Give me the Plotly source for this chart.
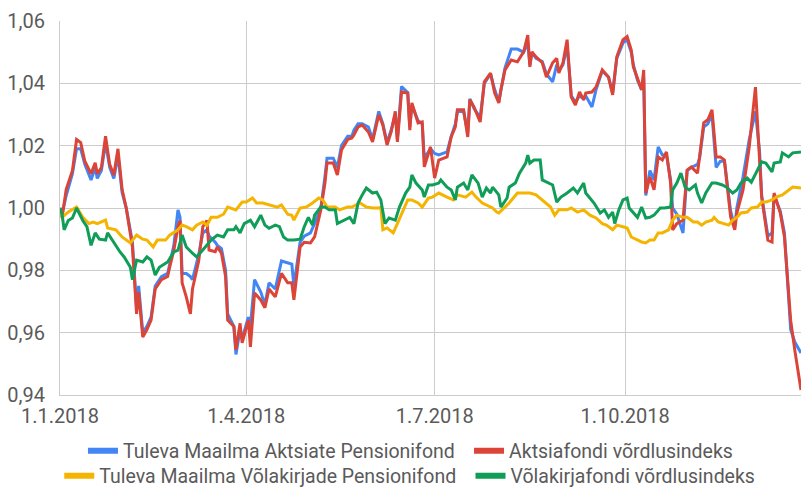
import pandas as pd
import plotly.graph_objects as go

# ---- data (day offsets from 1.1.2018, index values) ----
eq_days = [0, 1, 3, 6, 8, 10, 12, 15, 17, 18, 20, 22, 24, 26, 28, 30, 32, 35, 37, 38,
           40, 42, 44, 46, 49, 52, 53, 55, 57, 58, 59, 61, 63, 64, 67, 69, 71, 72, 75, 76,
           78, 80, 81, 84, 85, 87, 88, 91, 92, 94, 97, 99, 101, 104, 107, 110, 112, 113, 116, 118,
           121, 123, 126, 128, 129, 132, 134, 136, 139, 141, 142, 144, 146, 149, 151, 154, 156, 158, 160, 162,
           163, 165, 168, 169, 170, 173, 175, 176, 179, 181, 183, 187, 189, 191, 192, 195, 197, 198, 200, 203,
           205, 208, 210, 212, 213, 215, 218, 221, 224, 226, 227, 228, 230, 233, 235, 238, 240, 241, 243, 245,
           247, 249, 251, 253, 254, 257, 259, 262, 265, 267, 269, 272, 274, 276, 277, 279, 281, 282, 283, 285,
           287, 289, 291, 293, 295, 296, 298, 301, 303, 305, 308, 309, 311, 313, 315, 317, 319, 321, 324, 326,
           327, 330, 333, 336, 338, 339, 342, 344, 345, 348, 350, 353, 355, 358]

eq_fund = [1.000, 0.998, 1.004, 1.011, 1.019, 1.019, 1.014, 1.009, 1.013, 1.0095,
           1.012, 1.021, 1.013, 1.0095, 1.017, 1.005, 1.000, 0.989, 0.968, 0.975,
           0.960, 0.962, 0.965, 0.975, 0.978, 0.979, 0.982, 0.988, 0.9994, 0.997,
           0.979, 0.979, 0.978, 0.977, 0.985, 0.992, 0.993, 0.991, 0.989, 0.988,
           0.987, 0.980, 0.966, 0.962, 0.953, 0.961, 0.958, 0.965, 0.962, 0.977,
           0.973, 0.969, 0.976, 0.974, 0.983, 0.9825, 0.982, 0.975, 0.989, 0.991,
           0.992, 0.995, 1.000, 1.010, 1.016, 1.016, 1.013, 1.020, 1.023, 1.023,
           1.025, 1.027, 1.027, 1.026, 1.022, 1.031, 1.027, 1.021, 1.025, 1.030,
           1.022, 1.039, 1.037, 1.026, 1.033, 1.028, 1.027, 1.016, 1.019, 1.0175,
           1.017, 1.018, 1.023, 1.027, 1.031, 1.031, 1.024, 1.035, 1.032, 1.029,
           1.040, 1.043, 1.038, 1.034, 1.038, 1.045, 1.051, 1.051, 1.050, 1.053,
           1.046, 1.050, 1.048, 1.047, 1.043, 1.0405, 1.046, 1.044, 1.046, 1.052,
           1.036, 1.034, 1.036, 1.035, 1.036, 1.0324, 1.038, 1.044, 1.042, 1.037,
           1.048, 1.053, 1.054, 1.050, 1.046, 1.041, 1.038, 1.042, 1.004, 1.012,
           1.009, 1.0196, 1.017, 1.017, 1.009, 1.000, 0.998, 0.992, 1.012, 1.013,
           1.014, 1.016, 1.026, 1.027, 1.030, 1.013, 1.015, 1.015, 0.999, 0.994,
           1.000, 1.010, 1.022, 1.031, 1.018, 1.004, 0.991, 0.992, 1.004, 0.999,
           0.992, 0.961, 0.957, 0.9535]

eq_index = [1.000, 0.997, 1.006, 1.012, 1.022, 1.021, 1.015, 1.011, 1.0145, 1.011,
            1.013, 1.023, 1.014, 1.0106, 1.019, 1.006, 1.000, 0.9875, 0.966, 0.973,
            0.9586, 0.961, 0.964, 0.974, 0.977, 0.978, 0.981, 0.9865, 0.994, 0.996,
            0.976, 0.9715, 0.966, 0.974, 0.983, 0.994, 0.996, 0.9865, 0.986, 0.9875,
            0.9855, 0.978, 0.964, 0.962, 0.9545, 0.963, 0.9567, 0.964, 0.9554, 0.9727,
            0.9705, 0.968, 0.974, 0.9715, 0.979, 0.976, 0.976, 0.9705, 0.9875, 0.989,
            0.9888, 0.9907, 0.9994, 1.008, 1.0144, 1.0144, 1.0106, 1.0186, 1.022, 1.0225,
            1.0234, 1.026, 1.0266, 1.0244, 1.0212, 1.0299, 1.0266, 1.0202, 1.0244, 1.031,
            1.0212, 1.0372, 1.0369, 1.025, 1.0337, 1.0273, 1.0276, 1.0132, 1.0196, 1.0096,
            1.0154, 1.0164, 1.0228, 1.026, 1.0315, 1.0315, 1.0228, 1.0347, 1.0324, 1.0276,
            1.0405, 1.0433, 1.0369, 1.0337, 1.0379, 1.0443, 1.0475, 1.0469, 1.0501, 1.0555,
            1.0453, 1.0501, 1.0485, 1.0466, 1.042, 1.0466, 1.048, 1.0433, 1.0466, 1.054,
            1.0356, 1.033, 1.0372, 1.0347, 1.0369, 1.0372, 1.0388, 1.0443, 1.042, 1.0363,
            1.0485, 1.054, 1.055, 1.0507, 1.0453, 1.0417, 1.0379, 1.0443, 1.0048, 1.010,
            1.0058, 1.0164, 1.0154, 1.018, 1.008, 0.993, 0.995, 0.9961, 1.0122, 1.0132,
            1.0112, 1.0164, 1.0273, 1.0283, 1.0315, 1.0164, 1.0164, 1.0154, 0.9971, 0.993,
            0.9984, 1.0058, 1.0196, 1.0388, 1.0177, 1.0035, 0.9897, 0.9891, 1.0048, 0.9984,
            0.9907, 0.964, 0.9544, 0.9416]

bond_fund_days = [0, 1, 4, 8, 11, 14, 16, 18, 22, 23, 27, 30, 34, 37, 40, 42, 45, 47, 51, 53,
                  57, 59, 61, 64, 66, 69, 71, 73, 76, 79, 81, 85, 88, 90, 93, 95, 98, 101, 105, 107,
                  110, 112, 113, 116, 119, 122, 125, 127, 129, 133, 135, 139, 141, 145, 148, 151, 154, 155, 156, 158,
                  161, 163, 166, 168, 170, 173, 175, 178, 180, 183, 187, 190, 192, 196, 199, 201, 204, 206, 209, 211,
                  212, 215, 217, 221, 224, 227, 230, 233, 237, 239, 241, 245, 247, 250, 253, 256, 259, 262, 264, 267,
                  269, 272, 274, 276, 279, 281, 283, 285, 287, 289, 291, 294, 296, 298, 301, 303, 306, 308, 310, 312,
                  315, 316, 318, 320, 323, 325, 327, 329, 332, 334, 337, 339, 341, 344, 346, 349, 352, 354, 358]

bond_fund = [1.000, 0.997, 0.9987, 1.0003, 0.997, 0.995, 0.9955, 0.995, 0.9961, 0.9936,
             0.993, 0.9907, 0.9888, 0.9913, 0.990, 0.9897, 0.9875, 0.9897, 0.9897, 0.9913,
             0.993, 0.9945, 0.994, 0.993, 0.9945, 0.9955, 0.9945, 0.997, 0.997, 0.998,
             1.0003, 0.9994, 1.0019, 1.0019, 1.0032, 1.0016, 1.0016, 1.001, 1.0003, 1.001,
             0.998, 0.9977, 0.9961, 1.000, 1.0003, 1.0016, 1.0032, 1.0026, 1.0003, 1.0003,
             0.9994, 1.0003, 1.0003, 1.0016, 1.0003, 1.000, 1.000, 1.0003, 0.993, 0.9936,
             0.992, 0.995, 0.9994, 1.0026, 1.0026, 1.0016, 1.0003, 1.0032, 1.0035, 1.0048,
             1.0035, 1.0026, 1.0042, 1.0035, 1.0051, 1.0035, 1.0016, 1.001, 1.000, 0.9987,
             0.9984, 1.0003, 1.0016, 1.0048, 1.0048, 1.0048, 1.0042, 1.0026, 1.0003, 0.9977,
             0.9994, 0.9994, 1.000, 0.9987, 0.9994, 0.9977, 0.9968, 0.995, 0.9945, 0.993,
             0.9945, 0.994, 0.9936, 0.9907, 0.9897, 0.9891, 0.9888, 0.9897, 0.9897, 0.992,
             0.992, 0.993, 0.9961, 0.9977, 0.997, 0.997, 0.9955, 0.9955, 0.9945, 0.9955,
             0.9961, 0.997, 0.9955, 0.995, 0.9945, 0.9961, 0.997, 0.9984, 0.9987, 1.000,
             1.0003, 1.0019, 1.0019, 1.0026, 1.0035, 1.0042, 1.0058, 1.0067, 1.0064]

bond_index_days = [0, 1, 2, 4, 6, 8, 11, 13, 15, 17, 19, 22, 23, 26, 29, 31, 34, 35, 37, 40,
                   42, 44, 46, 48, 52, 55, 57, 59, 61, 64, 66, 69, 71, 73, 76, 79, 81, 84, 85, 87,
                   89, 92, 94, 97, 99, 101, 104, 106, 108, 110, 113, 116, 118, 120, 122, 123, 126, 128, 130, 133,
                   134, 137, 140, 142, 144, 146, 148, 151, 153, 155, 157, 159, 162, 164, 167, 169, 170, 172, 175, 176,
                   178, 180, 183, 184, 187, 189, 191, 192, 195, 197, 199, 202, 204, 206, 208, 209, 212, 213, 216, 217,
                   220, 222, 225, 226, 227, 229, 232, 233, 236, 238, 240, 242, 245, 248, 250, 253, 254, 257, 258, 261,
                   263, 265, 267, 268, 270, 272, 274, 275, 279, 281, 283, 285, 287, 290, 292, 295, 296, 298, 300, 302,
                   304, 307, 308, 310, 312, 315, 317, 320, 322, 325, 327, 329, 332, 334, 337, 339, 341, 344, 345, 348,
                   349, 352, 354, 358]

bond_index = [1.000, 0.998, 0.993, 0.996, 0.9968, 1.000, 0.996, 0.994, 0.988, 0.992,
              0.990, 0.9897, 0.992, 0.9888, 0.9859, 0.9843, 0.981, 0.977, 0.9833, 0.9827,
              0.9843, 0.9833, 0.9785, 0.981, 0.9827, 0.9859, 0.9865, 0.9913, 0.9875, 0.9855,
              0.9843, 0.9865, 0.988, 0.9897, 0.9913, 0.9907, 0.993, 0.993, 0.994, 0.992,
              0.995, 0.9961, 0.994, 0.9977, 0.9945, 0.9935, 0.9945, 0.994, 0.9907, 0.9897,
              0.9897, 0.990, 0.994, 0.997, 0.9945, 0.9977, 1.0003, 1.0003, 0.9994, 0.9994,
              0.995, 0.9961, 0.997, 0.995, 1.0016, 1.0042, 1.0064, 1.0048, 1.0051, 1.0026,
              0.995, 0.9968, 0.9961, 1.0003, 1.0048, 1.0067, 1.0106, 1.008, 1.0058, 1.0035,
              1.0074, 1.0074, 1.008, 1.009, 1.0067, 1.0058, 1.0026, 1.0067, 1.008, 1.0058,
              1.0106, 1.008, 1.0035, 1.0064, 1.0048, 1.0067, 1.0042, 1.0003, 1.0032, 1.0067,
              1.008, 1.0112, 1.0144, 1.017, 1.0144, 1.0154, 1.0154, 1.009, 1.008, 1.0074,
              1.0019, 1.0035, 1.0048, 1.0064, 1.0048, 1.008, 1.0048, 1.0026, 1.0016, 0.9984,
              0.9994, 0.997, 0.9987, 0.995, 0.9994, 1.0026, 1.0032, 1.000, 0.997, 1.0003,
              0.9968, 0.997, 0.9977, 1.000, 1.000, 1.0003, 1.0058, 1.008, 1.0112, 1.0067,
              1.0058, 1.0074, 1.0048, 1.0016, 1.0048, 1.008, 1.008, 1.0074, 1.0067, 1.0048,
              1.0058, 1.008, 1.0096, 1.0083, 1.0122, 1.0148, 1.0144, 1.0116, 1.0144, 1.0148,
              1.0177, 1.0164, 1.0177, 1.018]

series_names = ["Tuleva Maailma Aktsiate Pensionifond", "Aktsiafondi võrdlusindeks",
                "Tuleva Maailma Võlakirjade Pensionifond", "Võlakirjafondi võrdlusindeks"]
x_tick_dates = ["2018-01-01", "2018-04-01", "2018-07-01", "2018-10-01"]
x_tick_labels = ["1.1.2018", "1.4.2018", "1.7.2018", "1.10.2018"]
y_ticks = [0.94, 0.96, 0.98, 1.00, 1.02, 1.04, 1.06]
y_tick_labels = ["0,94", "0,96", "0,98", "1,00", "1,02", "1,04", "1,06"]

start = pd.Timestamp("2018-01-01")


def to_dates(days):
    return start + pd.to_timedelta(days, unit="D")


colors = ["#4285F4", "#DB4437", "#F4B400", "#0F9D58"]
data = [
    (eq_days, eq_fund),
    (eq_days, eq_index),
    (bond_fund_days, bond_fund),
    (bond_index_days, bond_index),
]
legend_ids = ["legend", "legend2", "legend3", "legend4"]

fig = go.Figure()
for (d, v), name, col, lg in zip(data, series_names, colors, legend_ids):
    fig.add_trace(go.Scatter(
        x=to_dates(d), y=v, mode="lines", name=name,
        line=dict(color=col, width=3), legend=lg, legendgroup=name,
        showlegend=False,
    ))
# legend entries with a thicker swatch, grouped with their series
for name, col, lg in zip(series_names, colors, legend_ids):
    fig.add_trace(go.Scatter(
        x=[None], y=[None], mode="lines", name=name,
        line=dict(color=col, width=6), legend=lg, legendgroup=name,
        showlegend=True, hoverinfo="skip",
    ))

FONT = "Roboto, Arial, sans-serif"
TXT = "#5a5a5a"
legend_common = dict(orientation="v", bgcolor="rgba(0,0,0,0)", borderwidth=0,
                     font=dict(family=FONT, size=19.5, color=TXT),
                     yanchor="middle", xanchor="left", visible=True)

fig.update_layout(
    width=801, height=487,
    margin=dict(l=60, r=0, t=21, b=92, autoexpand=False),
    paper_bgcolor="white", plot_bgcolor="white",
    showlegend=True,
    font=dict(family=FONT, color=TXT, size=20),
    legend=dict(legend_common, x=0.031, y=-0.15),
    legend2=dict(legend_common, x=0.552, y=-0.15),
    legend3=dict(legend_common, x=-0.001, y=-0.217),
    legend4=dict(legend_common, x=0.554, y=-0.217),
    xaxis=dict(
        range=[start, start + pd.Timedelta(days=358)],
        tickvals=pd.to_datetime(x_tick_dates), ticktext=x_tick_labels,
        showgrid=True, gridcolor="#cccccc", gridwidth=1,
        showline=True, linecolor="#cccccc", linewidth=1,
        zeroline=False, ticks="", ticklabelstandoff=3, automargin=False,
        tickfont=dict(family=FONT, size=20, color=TXT),
    ),
    yaxis=dict(
        range=[0.94, 1.06],
        tickvals=y_ticks, ticktext=y_tick_labels,
        showgrid=True, gridcolor="#cccccc", gridwidth=1,
        showline=True, linecolor="#cccccc", linewidth=1, mirror=False,
        zeroline=False, ticks="", ticklabelstandoff=10, automargin=False,
        tickfont=dict(family=FONT, size=20, color=TXT),
    ),
)

# remove the page's default body margin so the 801x487 figure fills the window
fig.write_html("out.html",
               config={"displayModeBar": False},
               post_script="document.body.style.margin='0px';document.body.style.overflow='hidden';")
